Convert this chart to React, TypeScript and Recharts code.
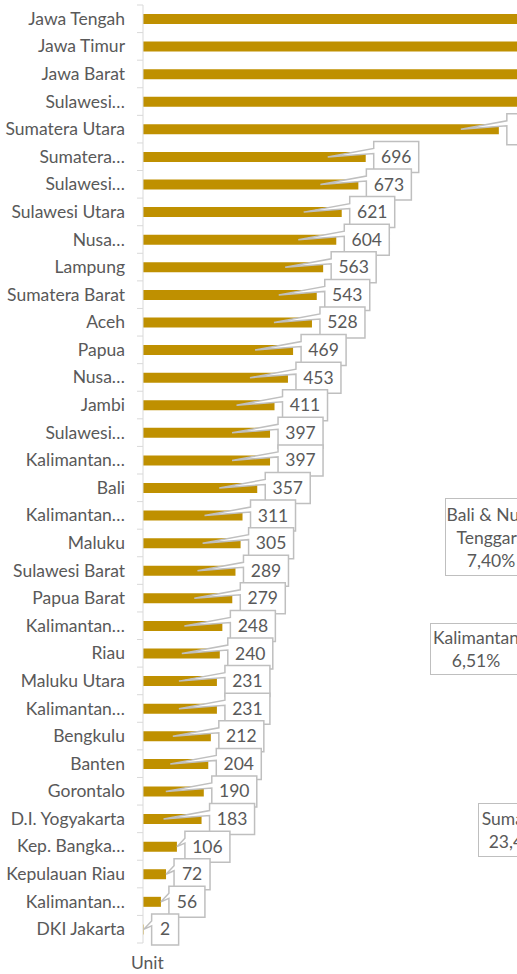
import { Bar, BarChart, LabelList, XAxis, YAxis } from 'recharts';

const provinces = [
  'Jawa Tengah', 'Jawa Timur', 'Jawa Barat', 'Sulawesi…', 'Sumatera Utara',
  'Sumatera…', 'Sulawesi…', 'Sulawesi Utara', 'Nusa…', 'Lampung',
  'Sumatera Barat', 'Aceh', 'Papua', 'Nusa…', 'Jambi',
  'Sulawesi…', 'Kalimantan…', 'Bali', 'Kalimantan…', 'Maluku',
  'Sulawesi Barat', 'Papua Barat', 'Kalimantan…', 'Riau', 'Maluku Utara',
  'Kalimantan…', 'Bengkulu', 'Banten', 'Gorontalo', 'D.I. Yogyakarta',
  'Kep. Bangka…', 'Kepulauan Riau', 'Kalimantan…', 'DKI Jakarta',
];

const units = [
  2310, 2150, 1740, 1320, 1112,
  696, 673, 621, 604, 563,
  543, 528, 469, 453, 411,
  397, 397, 357, 311, 305,
  289, 279, 248, 240, 231,
  231, 212, 204, 190, 183,
  106, 72, 56, 2,
];

const sideNotes = [
  { lines: ['Bali & Nusa', 'Tenggara', '7,40%'], left: 445, top: 498, width: 92, height: 78 },
  { lines: ['Kalimantan', '6,51%'], left: 430, top: 623, width: 92, height: 52 },
  { lines: ['Sumatera', '23,47%'], left: 478, top: 803, width: 80, height: 54 },
];

const rows = provinces.map((name, i) => ({ id: i, name, value: units[i] }));

const FONT = 'Lato, "Noto Sans", sans-serif';
const TEXT = '#595959';
const AXIS_X = 143;
const TOP = 5;
const BOTTOM = 31;
const H = 974;
const BAND = (H - TOP - BOTTOM) / rows.length;

const fmt = (v: number) => String(v).replace(/\B(?=(\d{3})+(?!\d))/g, '.');

const ProvinceTick = (props: any) => {
  const { y, payload, index } = props;
  const last = index === rows.length - 1;
  return (
    <g>
      <line x1={AXIS_X - 6} x2={AXIS_X} y1={y - BAND / 2} y2={y - BAND / 2} stroke="#d9d9d9" />
      {last && <line x1={AXIS_X - 6} x2={AXIS_X} y1={y + BAND / 2} y2={y + BAND / 2} stroke="#d9d9d9" />}
      <text x={125} y={y} dy={6} textAnchor="end" fill={TEXT} fontSize={17.5} fontFamily={FONT}>
        {rows[payload.value].name}
      </text>
    </g>
  );
};

const Callout = (props: any) => {
  const { x, y, width, height, value } = props;
  const v = Number(value);
  const end = x + width;
  const cy = y + height / 2;
  const label = fmt(v);
  const bw = label.length * 9 + 18;
  const bh = 31;
  const left = end + 8;
  const top = cy - bh / 2;
  const tipX = width > 50 ? end - 38 : end;
  const d = `M${left},${top} H${left + bw} V${top + bh} H${left} V${top + 12} L${tipX},${cy} L${left},${top + 7} Z`;
  return (
    <g>
      <path d={d} fill="#fff" stroke="#bfbfbf" strokeWidth={1.5} strokeLinejoin="miter" />
      <text x={left + bw / 2} y={cy} dy={6} textAnchor="middle" fill={TEXT} fontSize={17.5} fontFamily={FONT}>
        {label}
      </text>
    </g>
  );
};

export default function App() {
  return (
    <div style={{ position: 'fixed', left: 0, top: 0, width: 517, height: H, overflow: 'hidden', background: '#fff', fontFamily: FONT }}>
      <BarChart
        width={943}
        height={H}
        data={rows}
        layout="vertical"
        barCategoryGap={0}
        margin={{ top: TOP, right: 0, bottom: BOTTOM, left: 0 }}
      >
        <XAxis type="number" domain={[0, 2500]} hide />
        <YAxis
          type="category"
          dataKey="id"
          width={AXIS_X}
          interval={0}
          axisLine={{ stroke: '#d9d9d9' }}
          tickLine={false}
          tick={ProvinceTick}
        />
        <Bar dataKey="value" fill="#BF9000" barSize={10} isAnimationActive={false}>
          <LabelList dataKey="value" content={Callout} />
        </Bar>
      </BarChart>
      <div style={{ position: 'absolute', left: 131, top: 952, fontSize: 17.5, color: TEXT }}>Unit</div>
      {sideNotes.map((n, i) => (
        <div
          key={i}
          style={{
            position: 'absolute',
            left: n.left,
            top: n.top,
            width: n.width,
            height: n.height,
            border: '1.5px solid #bfbfbf',
            background: '#fff',
            color: TEXT,
            fontSize: 17.5,
            lineHeight: '23px',
            textAlign: 'center',
            display: 'flex',
            flexDirection: 'column',
            justifyContent: 'center',
            boxSizing: 'border-box',
          }}
        >
          {n.lines.map((l, j) => (
            <div key={j}>{l}</div>
          ))}
        </div>
      ))}
    </div>
  );
}
